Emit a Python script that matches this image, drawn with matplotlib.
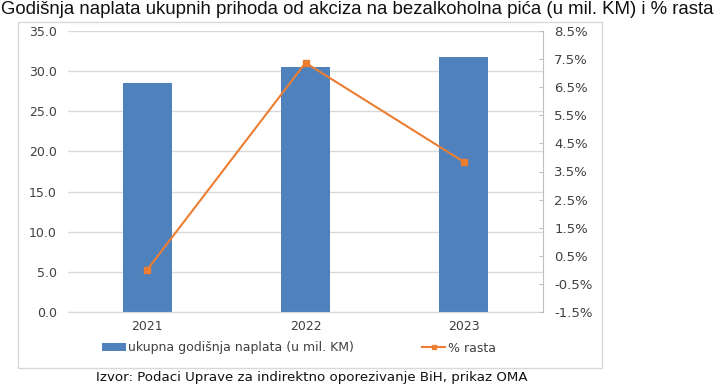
import matplotlib.pyplot as plt
from matplotlib.patches import Rectangle
from matplotlib.lines import Line2D
from matplotlib.patches import Patch

years = ["2021", "2022", "2023"]
naplata = [28.5, 30.5, 31.8]
rast = [0.0, 7.37, 3.84]

left_ticks = [0, 5, 10, 15, 20, 25, 30, 35]
right_ticks = [-1.5, -0.5, 0.5, 1.5, 2.5, 3.5, 4.5, 5.5, 6.5, 7.5, 8.5]

bar_color = "#4f81bd"
line_color = "#ed7d31"
grid_color = "#d9d9d9"
text_color = "#404040"

fig = plt.figure(figsize=(7.2, 3.88), dpi=100)
ax = fig.add_axes([68 / 720, 1 - 312 / 388, 475 / 720, 281 / 388])

x = range(len(years))
ax.bar(x, naplata, width=0.31, color=bar_color, zorder=2)
ax.set_xlim(-0.5, 2.5)
ax.set_ylim(0, 35)
ax.set_yticks(left_ticks)
ax.set_yticklabels([f"{v:.1f}" for v in left_ticks])
ax.set_xticks(list(x))
ax.set_xticklabels(years)
ax.yaxis.grid(True, color=grid_color, linewidth=1, zorder=0)
for s in ["top", "left", "right"]:
    ax.spines[s].set_visible(False)
ax.spines["bottom"].set_color(grid_color)
ax.tick_params(axis="both", length=0, labelsize=9, colors=text_color)
ax.tick_params(axis="y", pad=8)
ax.tick_params(axis="x", pad=6)

ax2 = ax.twinx()
ax2.plot(list(x), rast, color=line_color, linewidth=1.5, marker="s", markersize=4.5, zorder=3)
ax2.set_ylim(-1.5, 8.5)
ax2.set_yticks(right_ticks)
ax2.set_yticklabels([f"{v:.1f}%" for v in right_ticks])
for s in ["top", "left", "bottom"]:
    ax2.spines[s].set_visible(False)
ax2.spines["right"].set_color("#bfbfbf")
ax2.tick_params(axis="y", direction="in", length=3, color="#bfbfbf", labelsize=9.5,
                labelcolor=text_color, pad=8)

fig.patches.append(Rectangle((18 / 720, 1 - 368 / 388), 584 / 720, 346 / 388,
                             transform=fig.transFigure, fill=False,
                             edgecolor=grid_color, linewidth=1))

handles = [Patch(facecolor=bar_color, edgecolor="none"),
           Line2D([0], [0], color=line_color, linewidth=1.5, marker="s", markersize=3.5)]
fig.legend(handles, ["ukupna godišnja naplata (u mil. KM)", "% rasta"],
           loc="center", bbox_to_anchor=(299 / 720, 1 - 348 / 388), ncol=2,
           frameon=False, fontsize=9, handlelength=1.9, handleheight=0.6,
           handletextpad=0.2, columnspacing=5.4, labelcolor=text_color)

fig.text(1 / 720, 1 - 1 / 388,
         "Godišnja naplata ukupnih prihoda od akciza na bezalkoholna pića (u mil. KM) i % rasta",
         ha="left", va="top", fontsize=13.4, family="Liberation Sans", color="#111111")
fig.text(312 / 720, 1 - 378 / 388,
         "Izvor: Podaci Uprave za indirektno oporezivanje BiH, prikaz OMA",
         ha="center", va="center", fontsize=9.6, color="#111111")

fig.savefig("out.png", dpi=100)
